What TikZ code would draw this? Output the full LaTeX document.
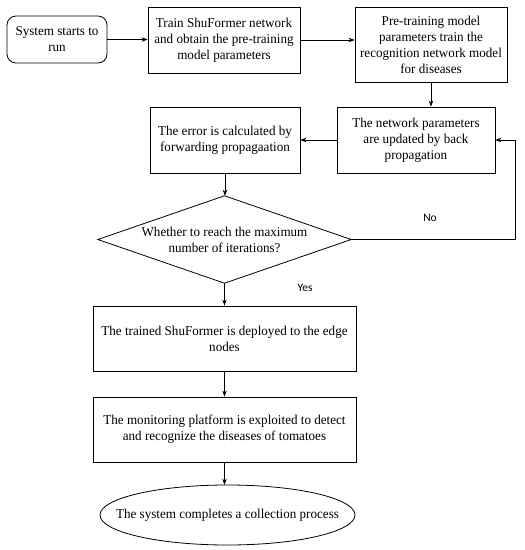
\documentclass[tikz,border=0pt]{standalone}
\usepackage{fontspec}
\setmainfont{Liberation Serif}[FakeStretch=0.97]
\newfontfamily\lblfont{Carlito}
\usetikzlibrary{arrows.meta,shapes.geometric}
\begin{document}
\begin{tikzpicture}[x=1pt,y=-1pt,
  every node/.style={font=\fontsize{13.5}{16}\selectfont, align=center, inner sep=2pt},
  box/.style={draw, line width=0.8pt, rectangle},
  conn/.style={line width=0.8pt, -{Stealth[length=6pt,width=4.5pt]}},
  lbl/.style={font=\lblfont\fontsize{11.5}{13}\selectfont}]
\useasboundingbox (0,0) rectangle (525,550);
\node[box, rounded corners=9pt, minimum width=100pt, minimum height=47pt] (start) at (57,39.5) {System starts to\\run};
\node[box, minimum width=152pt, minimum height=66pt] (train) at (224,40) {Train ShuFormer network\\and obtain the pre-training\\model parameters};
\node[box, minimum width=152pt, minimum height=75pt] (pre) at (431,44.5) {Pre-training model\\parameters train the\\recognition network model\\for diseases};
\node[box, minimum width=158pt, minimum height=66pt] (net) at (416,140) {The network parameters\\are updated by back\\propagation};
\node[box, minimum width=150pt, minimum height=66pt] (err) at (225,140) {The error is calculated by\\forwarding propagaation};
\node[minimum width=253pt, minimum height=87pt, inner sep=0pt] (dec) at (224.5,239.5) {Whether to reach the maximum\\number of iterations?};
\draw[line width=0.8pt] (dec.north) -- (dec.east) -- (dec.south) -- (dec.west) -- cycle;
\node[box, minimum width=263pt, minimum height=65pt] (dep) at (224.5,338.5) {The trained ShuFormer is deployed to the edge\\nodes};
\node[box, minimum width=263pt, minimum height=65pt] (mon) at (224.5,429.5) {The monitoring platform is exploited to detect\\and recognize the diseases of tomatoes};
\node[minimum width=255pt, minimum height=60pt, inner sep=0pt] (end) at (227.5,515) {The system completes a collection process};
\draw[line width=0.8pt] (end.center) ellipse [x radius=127.5pt, y radius=30pt];
\coordinate (cr) at (515,239.5);
\draw[conn] (start.east) -- (start.east -| train.west);
\draw[conn] (train.east) -- (train.east -| pre.west);
\draw[conn] (pre.south) -- (pre.south |- net.north);
\draw[conn] (net.west) -- (err.east);
\draw[conn] (err.south) -- (err.south |- dec.north);
\draw[conn] (dec.east) -- (cr) |- (net.east);
\draw[conn] (dec.south) -- (dep.north);
\draw[conn] (dep.south) -- (mon.north);
\draw[conn] (mon.south) -- (mon.south |- end.north);
\node[lbl] (no) at (430,218) {No};
\node[lbl] (yes) at (305,288) {Yes};
\end{tikzpicture}
\end{document}
